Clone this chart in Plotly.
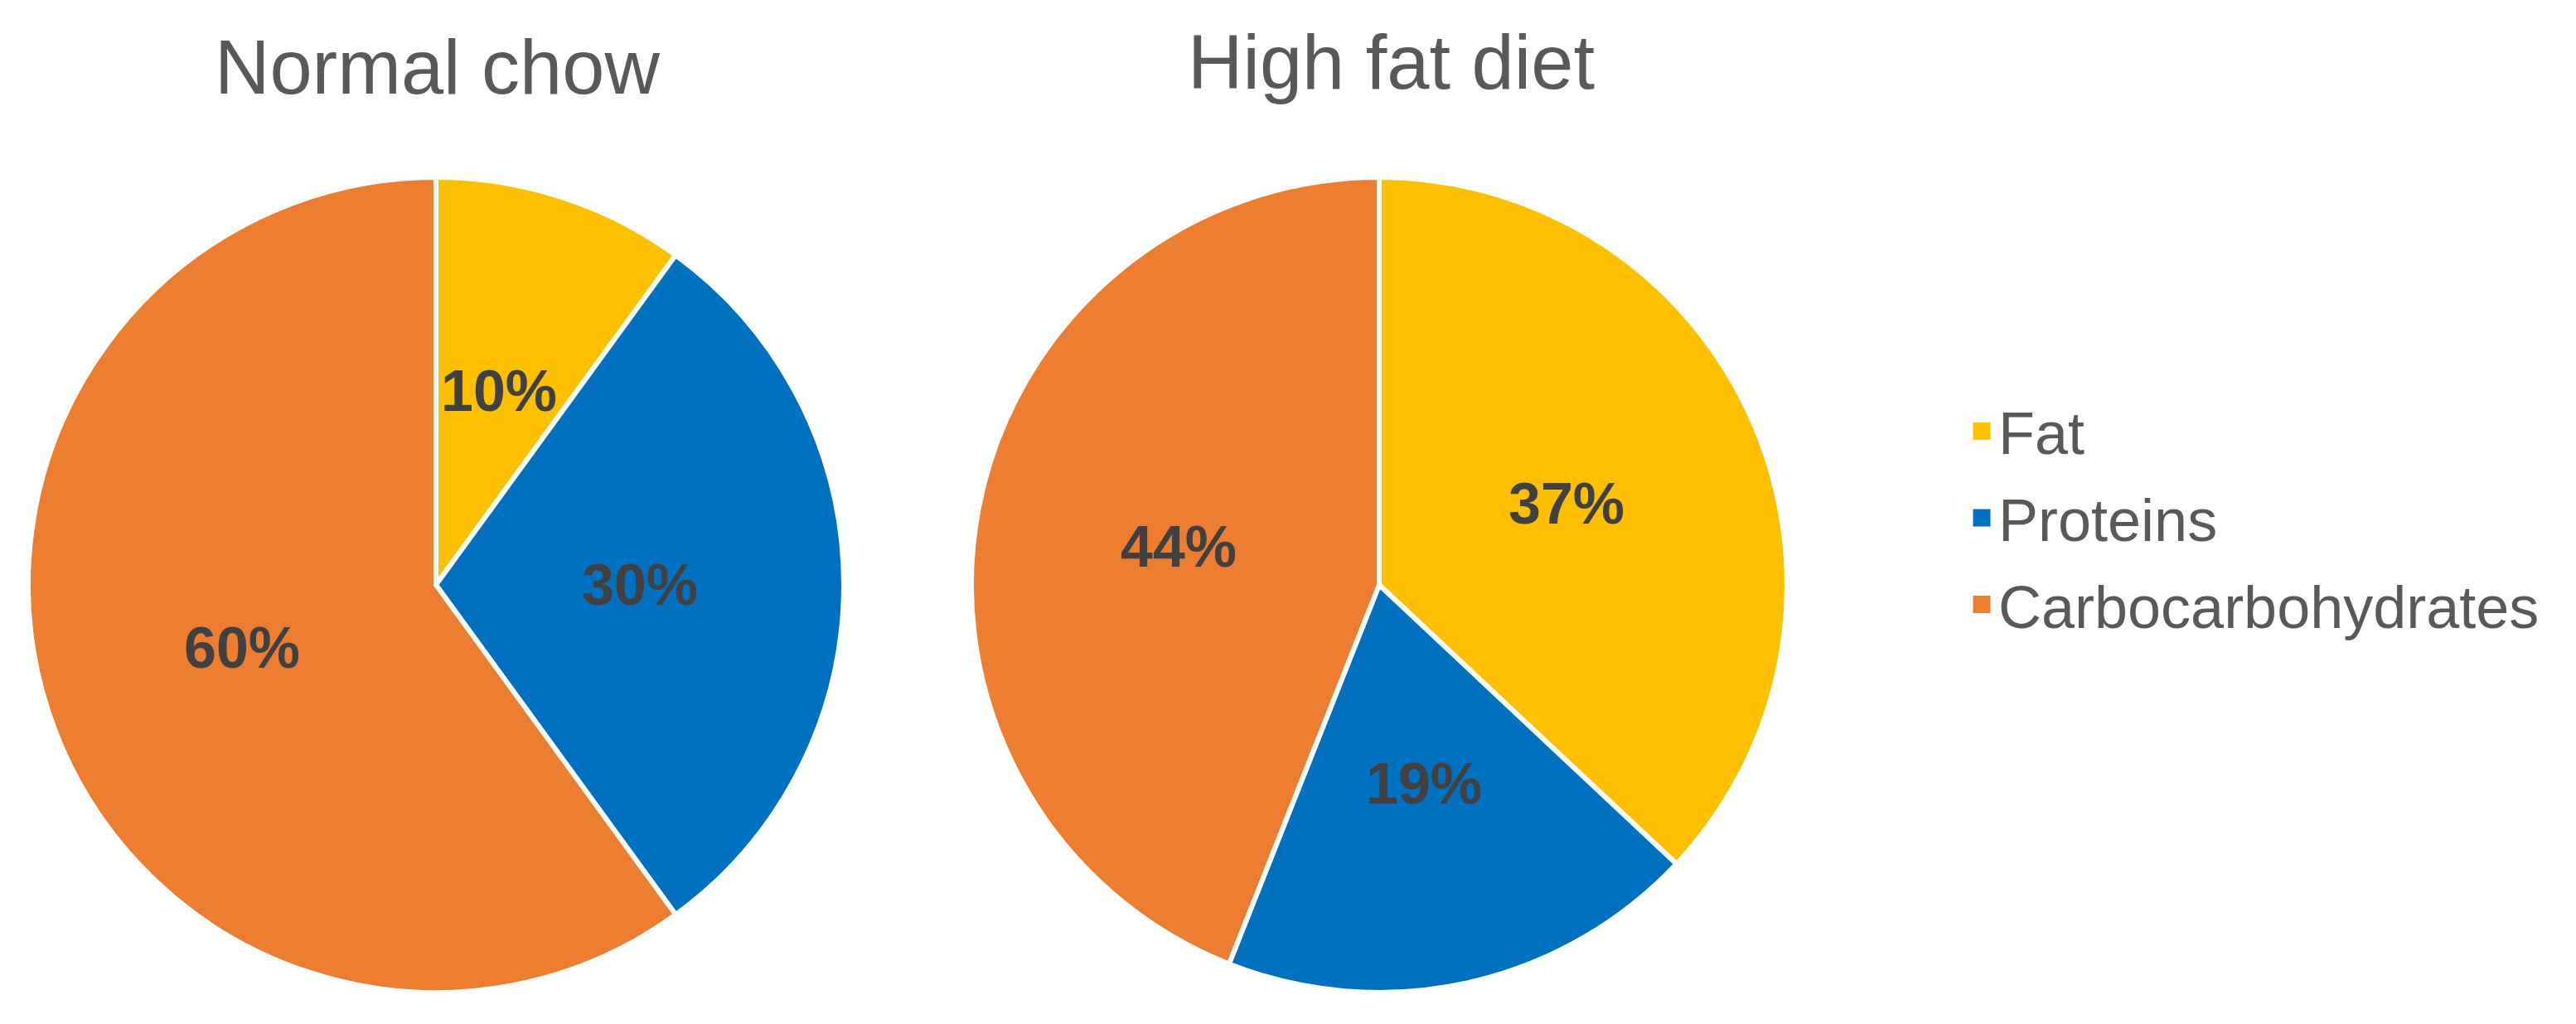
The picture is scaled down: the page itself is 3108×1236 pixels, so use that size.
import math
import plotly.graph_objects as go

categories = ["Fat", "Proteins", "Carbocarbohydrates"]
normal_chow = [10, 30, 60]
high_fat = [37, 19, 44]
titles = ["Normal chow", "High fat diet"]
colors = ["#FFC000", "#0070C0", "#ED7D31"]

W, H = 3108, 1236
FONT = "Liberation Sans, Arial, sans-serif"

# pie geometry in pixels (centre x, centre y from top, radius)
pies = [(518, 698, 492), (1656, 698, 492)]

fig = go.Figure()
for i, vals in enumerate([normal_chow, high_fat]):
    cx, cy, r = pies[i]
    fig.add_trace(go.Pie(
        labels=categories,
        values=vals,
        domain=dict(x=[(cx - r) / W, (cx + r) / W],
                    y=[1 - (cy + r) / H, 1 - (cy - r) / H]),
        sort=False,
        direction="clockwise",
        rotation=0,
        marker=dict(colors=colors, line=dict(color="white", width=6)),
        textinfo="none",
        showlegend=False,
        hoverinfo="label+percent",
    ))
    # percent labels placed at half radius on each slice's mid angle
    total = sum(vals)
    cum = 0
    for v in vals:
        mid = (cum + v / 2) / total * 2 * math.pi
        cum += v
        x = cx + 0.5 * r * math.sin(mid)
        y = cy - 0.5 * r * math.cos(mid)
        fig.add_annotation(text=f"{round(100 * v / total)}%", x=x / W, y=1 - y / H,
                           xref="paper", yref="paper", showarrow=False,
                           xanchor="center", yanchor="middle",
                           font=dict(family=FONT, size=70, color="#404040", weight="bold"))

# legend entries
for cat, c in zip(categories, colors):
    fig.add_trace(go.Scatter(
        x=[None], y=[None], mode="markers", name=cat, legendgroup=cat,
        marker=dict(symbol="square", size=16, color=c, line=dict(color=c, width=6)),
        hoverinfo="skip",
    ))

title_pos = [(519 / W, 1 - 73 / H), (1670 / W, 1 - 67 / H)]
for t, (x, y) in zip(titles, title_pos):
    fig.add_annotation(text=t, x=x, y=y, xref="paper", yref="paper",
                       xanchor="center", yanchor="middle", showarrow=False,
                       font=dict(family=FONT, size=92, color="#595959"))

fig.update_layout(
    width=W, height=H,
    margin=dict(l=0, r=0, t=0, b=0),
    paper_bgcolor="white", plot_bgcolor="white",
    xaxis=dict(visible=False), yaxis=dict(visible=False),
    legend=dict(x=2363 / W, xanchor="left", y=1 - 617 / H, yanchor="middle",
                font=dict(family=FONT, size=72, color="#595959"),
                traceorder="grouped", tracegroupgap=8),
)
fig.write_html("out.html")
